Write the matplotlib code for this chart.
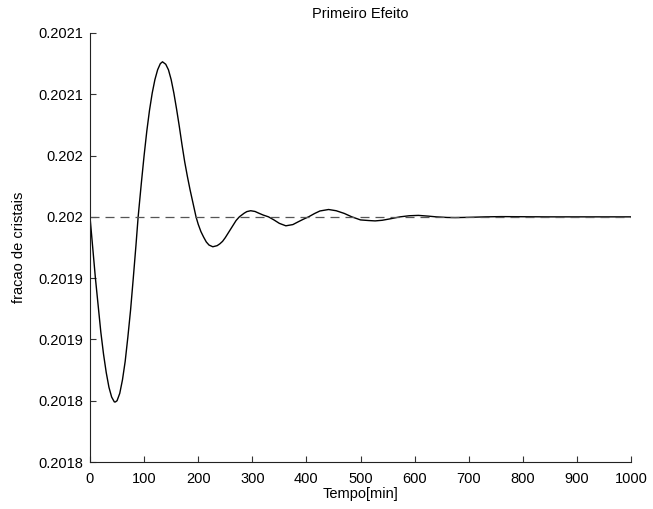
import matplotlib
matplotlib.use('Agg')
import matplotlib.pyplot as plt

plt.rcParams['font.family'] = ['Liberation Sans', 'DejaVu Sans']
plt.rcParams['lines.scale_dashes'] = False

# valores
tempo = [0, 5, 10, 15, 20, 25, 30, 35, 40, 45, 47, 50, 55, 60, 65, 70, 75, 80, 85, 89,
         95, 100, 105, 110, 115, 120, 125, 130, 134, 140, 145, 150, 155, 160, 165, 170,
         175, 180, 185, 190, 196, 200, 205, 210, 215, 220, 227, 235, 240, 245, 250, 255,
         260, 265, 270, 276, 285, 290, 297, 305, 312, 320, 330, 340, 350, 362, 375, 385,
         395, 404, 415, 425, 441, 455, 470, 484, 500, 515, 527, 540, 555, 573, 590, 607,
         625, 640, 660, 675, 700, 730, 760, 800, 850, 1000]
fracao = [0.201950, 0.201925, 0.201900, 0.201878, 0.201856, 0.201838, 0.201823, 0.201811,
          0.201803, 0.201799, 0.201799, 0.201800, 0.201806, 0.201817, 0.201832, 0.201852,
          0.201874, 0.201900, 0.201927, 0.201950, 0.201978, 0.202000, 0.202020, 0.202037,
          0.202051, 0.202062, 0.202070, 0.202075, 0.2020765, 0.2020745, 0.202070, 0.202062,
          0.202051, 0.202038, 0.202024, 0.202009, 0.201995, 0.201983, 0.201972, 0.201962,
          0.201950, 0.201944, 0.201938, 0.2019335, 0.2019295, 0.201927, 0.2019256, 0.2019265,
          0.201928, 0.201930, 0.201933, 0.2019365, 0.201940, 0.2019435, 0.201947, 0.201950,
          0.201953, 0.2019543, 0.201955, 0.2019544, 0.201953, 0.2019515, 0.201950, 0.2019475,
          0.2019447, 0.2019427, 0.2019437, 0.201946, 0.2019482, 0.201950, 0.2019527, 0.2019548,
          0.201956, 0.201955, 0.2019528, 0.201950, 0.2019475, 0.201947, 0.2019467, 0.2019472,
          0.2019484, 0.201950, 0.2019509, 0.2019512, 0.2019506, 0.201950, 0.2019495, 0.2019494,
          0.2019496, 0.201950, 0.2019502, 0.2019501, 0.201950, 0.201950]
setpoint = 0.20195

xticks = [0, 100, 200, 300, 400, 500, 600, 700, 800, 900, 1000]
yticks = [0.20175, 0.20180, 0.20185, 0.20190, 0.20195, 0.20200, 0.20205, 0.20210]
ylabels = ['0.2018', '0.2018', '0.2019', '0.2019', '0.202', '0.202', '0.2021', '0.2021']

fig = plt.figure(figsize=(6.53, 5.09), dpi=100)
ax = fig.add_axes([90/653, 47/509, 541/653, 429/509])

ax.plot(tempo, fracao, color='black', lw=1.0)
ax.plot([0, 1000], [setpoint, setpoint], color='#555555', lw=0.9, linestyle=(0, (6.5, 4.3)))

ax.set_xlim(0, 1000)
ax.set_ylim(0.20175, 0.20210)
ax.set_xticks(xticks)
ax.set_yticks(yticks)
ax.set_yticklabels(ylabels)

for s in ['top', 'right']:
    ax.spines[s].set_visible(False)
for s in ['left', 'bottom']:
    ax.spines[s].set_linewidth(0.8)
    ax.spines[s].set_color('#222222')

ax.tick_params(direction='in', length=4, width=0.8, color='#333333', labelsize=10.5)
ax.tick_params(axis='x', pad=7)
ax.tick_params(axis='y', pad=5)

ax.set_title('Primeiro Efeito', fontsize=10.5, pad=10.5)
ax.set_xlabel('Tempo[min]', fontsize=10.5, labelpad=1)
ax.set_ylabel('fracao de cristais', fontsize=10.5, labelpad=9)

fig.savefig('out.png', dpi=100)
